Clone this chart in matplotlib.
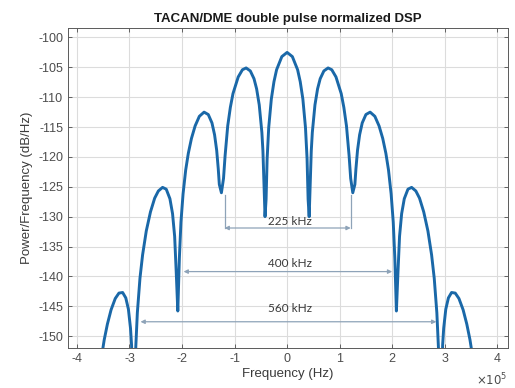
import matplotlib
matplotlib.use("Agg")
import matplotlib.pyplot as plt
from matplotlib.ticker import MultipleLocator
import numpy as np

# ---------- Spectre (kHz, dB/Hz) ----------
freq_khz = [
    -360, -355, -348, -342, -335, -327, -320, -313, -307, -302, -298, -296,
    -292, -288, -285, -280, -275, -268, -260, -252, -245, -237, -230, -223,
    -218, -214, -211, -208, -205, -202, -198, -193, -188, -182, -175, -167,
    -158, -150, -143, -138, -134, -131, -129, -125, -121, -118, -113, -108,
    -103, -93, -85, -78, -70, -63, -58, -53, -48, -46, -44, -42,
    -40, -38, -35, -30, -25, -20, -10, 0,
    10, 20, 25, 30, 35, 38, 40, 42, 44, 46, 48, 53,
    58, 63, 70, 78, 85, 93, 103, 108, 113, 118, 121, 125,
    129, 131, 134, 138, 143, 150, 158, 167, 175, 182, 188, 193,
    198, 202, 205, 208, 211, 214, 218, 223, 230, 237, 245, 252,
    260, 268, 275, 280, 285, 288, 292, 296, 298, 302, 307, 313,
    320, 327, 335, 342, 348, 355, 360,
]
dsp_db = [
    -159.0, -154.5, -150.6, -148.0, -145.6, -143.7, -142.8, -142.7, -143.6, -145.5, -148.7, -151.5,
    -165.0, -151.9, -146.1, -140.3, -136.4, -132.4, -129.2, -126.9, -125.7, -125.1, -125.4, -127.0,
    -129.5, -133.3, -139.3, -145.8, -136.9, -130.9, -126.2, -122.2, -119.4, -116.9, -114.8, -113.2,
    -112.5, -112.9, -114.3, -116.3, -118.9, -122.0, -124.6, -126.0, -123.6, -119.8, -114.8, -111.7,
    -109.4, -106.6, -105.4, -105.1, -105.6, -106.9, -108.6, -111.3, -115.9, -119.0, -124.3, -130.0,
    -127.1, -120.3, -115.1, -110.3, -107.4, -105.4, -103.2, -102.5,
    -103.2, -105.4, -107.4, -110.3, -115.1, -120.3, -127.1, -130.0, -124.3, -119.0, -115.9, -111.3,
    -108.6, -106.9, -105.6, -105.1, -105.4, -106.6, -109.4, -111.7, -114.8, -119.8, -123.6, -126.0,
    -124.6, -122.0, -118.9, -116.3, -114.3, -112.9, -112.5, -113.2, -114.8, -116.9, -119.4, -122.2,
    -126.2, -130.9, -136.9, -145.8, -139.3, -133.3, -129.5, -127.0, -125.4, -125.1, -125.7, -126.9,
    -129.2, -132.4, -136.4, -140.3, -146.1, -151.9, -165.0, -151.5, -148.7, -145.5, -143.6, -142.7,
    -142.8, -143.7, -145.6, -148.0, -150.6, -154.5, -159.0,
]

# ---------- Cotes de largeur de bande ----------
cote_labels = ["225 kHz", "400 kHz", "560 kHz"]
cote_x0_khz = [-119, -197, -279]
cote_x1_khz = [121, 200, 284]
cote_y_db = [-131.9, -139.2, -147.6]
cote_text_y_db = [-130.8, -137.8, -145.3]
# pieds verticaux de la cote 225 kHz (depuis les creux)
pied_top_db = -126.3

plt.rcParams["font.family"] = ["Liberation Sans", "DejaVu Sans"]
plt.rcParams["axes.unicode_minus"] = False

fig = plt.figure(figsize=(5.15, 3.88), dpi=100)
ax = fig.add_axes([0.132, 0.103, 0.854, 0.825])

# axe x en unites de 1e5 Hz (100 kHz)
f_e5 = np.array(freq_khz) / 100.0
ax.plot(f_e5, dsp_db, color="#1a68a8", lw=2.1, solid_joinstyle="round", zorder=3)

c_cote = "#8ea3b8"
for lab, x0, x1, y, ty in zip(cote_labels, cote_x0_khz, cote_x1_khz, cote_y_db, cote_text_y_db):
    ax.annotate("", xy=(x0 / 100.0, y), xytext=(x1 / 100.0, y),
                arrowprops=dict(arrowstyle="<|-|>", color=c_cote, lw=0.9,
                                mutation_scale=6, shrinkA=0, shrinkB=0), zorder=2)
    ax.text(0.05, ty, lab, ha="center", va="center", fontsize=8.5, color="#3a3a3a",
            family=["Lato", "DejaVu Sans"], zorder=4)

for x in (cote_x0_khz[0], cote_x1_khz[0]):
    ax.plot([x / 100.0, x / 100.0], [pied_top_db, cote_y_db[0]], color=c_cote, lw=0.9, zorder=2)

ax.set_xlim(-4.17, 4.2)
ax.set_ylim(-152, -98.4)
ax.xaxis.set_major_locator(MultipleLocator(1))
ax.yaxis.set_major_locator(MultipleLocator(5))

ax.grid(True, color="#dcdcdc", lw=0.8)
ax.set_axisbelow(True)
ax.tick_params(direction="in", top=True, right=True, length=3, labelsize=9,
               colors="#4d4d4d", width=0.6)
for s in ax.spines.values():
    s.set_color("#5a5a5a")
    s.set_linewidth(0.7)

ax.text(1.0, -0.075, r"$\times10^{5}$", transform=ax.transAxes, ha="right", va="top",
        fontsize=8.5, color="#4d4d4d")

ax.set_title("TACAN/DME double pulse normalized DSP", fontsize=9.5, weight="bold",
             color="#1a1a1a", pad=4)
ax.set_xlabel("Frequency (Hz)", fontsize=9.5, color="#3a3a3a", labelpad=2)
ax.set_ylabel("Power/Frequency (dB/Hz)", fontsize=9.5, color="#3a3a3a", labelpad=4)

fig.savefig("out.png", dpi=100)
